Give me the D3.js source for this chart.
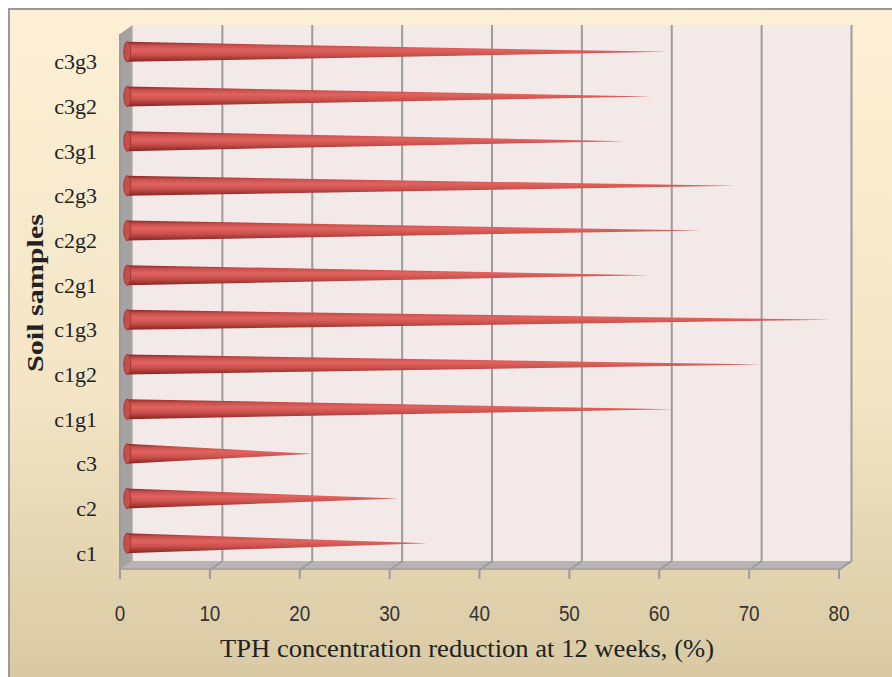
<!DOCTYPE html>
<html>
<head>
<meta charset="utf-8">
<script src="https://cdn.jsdelivr.net/npm/d3@7"></script>
<style>
  body { margin: 0; background: #fff; }
  svg { display: block; }
</style>
</head>
<body>
<script>
// soil samples, bottom to top
let samples = ['c1', 'c2', 'c3', 'c1g1', 'c1g2', 'c1g3', 'c2g1', 'c2g2', 'c2g3', 'c3g1', 'c3g2', 'c3g3'];
let reduction = [33.5, 30.3, 20.7, 60.9, 70.8, 78.5, 58.2, 64.1, 67.8, 55.5, 58.5, 60.2];
let xTicks = [0, 10, 20, 30, 40, 50, 60, 70, 80];

let width = 892;
let height = 677;

// 3d depth offset (front -> back)
let dx = 12.5, dy = -9;
let frontBottom = 570, frontTop = 34;

var svg = d3.select("body").append("svg")
  .attr("width", width)
  .attr("height", height);

let defs = svg.append('defs');

let bg = defs.append('linearGradient').attr('id', 'bg')
  .attr('x1', 0).attr('y1', 0).attr('x2', 0).attr('y2', 1);
bg.append('stop').attr('offset', '0%').attr('stop-color', '#fdf0d5');
bg.append('stop').attr('offset', '55%').attr('stop-color', '#f3e5c5');
bg.append('stop').attr('offset', '100%').attr('stop-color', '#d6c7a0');

let coneGrad = defs.append('linearGradient').attr('id', 'cone')
  .attr('x1', 0).attr('y1', 0).attr('x2', 0).attr('y2', 1);
coneGrad.append('stop').attr('offset', '0%').attr('stop-color', '#8c2624');
coneGrad.append('stop').attr('offset', '18%').attr('stop-color', '#c8504c');
coneGrad.append('stop').attr('offset', '40%').attr('stop-color', '#e0635f');
coneGrad.append('stop').attr('offset', '65%').attr('stop-color', '#cc524e');
coneGrad.append('stop').attr('offset', '100%').attr('stop-color', '#862422');

// chart area background + frame
svg.append('rect')
  .attr('x', 9).attr('y', 9)
  .attr('width', width + 20).attr('height', height + 20)
  .attr('fill', 'url(#bg)')
  .attr('stroke', '#9a9a9a')
  .attr('stroke-width', 2);

// scales (front plane)
let x = d3.scaleLinear().domain([0, 80]).range([120, 839]);
let y = d3.scaleBand().domain(samples).range([frontBottom, frontTop]).paddingInner(0).paddingOuter(0);

let walls = svg.append('g');

// back wall
walls.append('rect')
  .attr('x', x(0) + dx).attr('y', frontTop + dy)
  .attr('width', x(80) - x(0)).attr('height', frontBottom - frontTop)
  .attr('fill', '#f3e9e9');

// side wall
walls.append('path')
  .attr('d', `M${x(0)},${frontTop} L${x(0) + dx},${frontTop + dy} L${x(0) + dx},${frontBottom + dy} L${x(0)},${frontBottom} Z`)
  .attr('fill', '#a4a2a3');

// floor
walls.append('path')
  .attr('d', `M${x(0)},${frontBottom} L${x(0) + dx},${frontBottom + dy} L${x(80) + dx},${frontBottom + dy} L${x(80)},${frontBottom} Z`)
  .attr('fill', '#b9b3b6');
walls.append('line')
  .attr('x1', x(0)).attr('x2', x(80))
  .attr('y1', frontBottom - 1).attr('y2', frontBottom - 1)
  .attr('stroke', '#aaa4a7').attr('stroke-width', 2);

// gridlines on back wall and floor
let grid = svg.append('g').attr('stroke', '#9c9c9c').attr('stroke-width', 2).attr('fill', 'none');
grid.selectAll('path')
  .data(xTicks.slice(1))
  .enter().append('path')
  .attr('d', (d) => `M${x(d) + dx},${frontTop + dy} L${x(d) + dx},${frontBottom + dy} L${x(d)},${frontBottom}`);

// front axis ticks
svg.append('g').attr('stroke', '#9c9c9c').attr('stroke-width', 2)
  .selectAll('line')
  .data(xTicks)
  .enter().append('line')
  .attr('x1', (d) => x(d)).attr('x2', (d) => x(d))
  .attr('y1', frontBottom).attr('y2', frontBottom + 9);
svg.append('line')
  .attr('x1', x(0)).attr('x2', x(0))
  .attr('y1', frontTop).attr('y2', frontBottom + 9)
  .attr('stroke', '#9c9c9c').attr('stroke-width', 2);

// cones sit half way into the depth
let mx = dx / 2, my = dy / 2;
let r = 10;

let cones = svg.append('g')
  .selectAll('g')
  .data(samples.map((s, i) => ({name: s, value: reduction[i]})))
  .enter().append('g');

cones.append('path')
  .attr('d', (d) => {
    let cy = y(d.name) + y.bandwidth() / 2 + my;
    let x0 = x(0) + mx;
    let tip = x(d.value) + mx;
    return `M${x0},${cy - r} L${tip},${cy} L${x0},${cy + r} Z`;
  })
  .attr('fill', 'url(#cone)');

cones.append('ellipse')
  .attr('cx', x(0) + mx + 1)
  .attr('cy', (d) => y(d.name) + y.bandwidth() / 2 + my)
  .attr('rx', 3.5).attr('ry', r)
  .attr('fill', '#c4504c')
  .attr('stroke', '#9a302d').attr('stroke-width', 0.8);

// category labels
svg.append('g')
  .selectAll('text')
  .data(samples)
  .enter().append('text')
  .attr('x', 97)
  .attr('y', (d) => y(d) + y.bandwidth() / 2 + 13)
  .attr('text-anchor', 'end')
  .attr('font-family', '"Liberation Serif", "Times New Roman", serif')
  .attr('font-size', 22)
  .attr('fill', '#222')
  .text((d) => d);

// x tick labels
svg.append('g')
  .selectAll('text')
  .data(xTicks)
  .enter().append('text')
  .attr('x', (d) => x(d))
  .attr('y', 621)
  .attr('text-anchor', 'middle')
  .attr('font-family', '"Liberation Sans", Arial, sans-serif')
  .attr('font-size', 22)
  .attr('textLength', (d) => String(d).length * 10.5)
  .attr('lengthAdjust', 'spacingAndGlyphs')
  .attr('fill', '#333')
  .text((d) => d);

// axis titles
svg.append('text')
  .attr('x', 467)
  .attr('y', 657)
  .attr('text-anchor', 'middle')
  .attr('font-family', '"Liberation Serif", "Times New Roman", serif')
  .attr('font-size', 26)
  .attr('textLength', 494)
  .attr('lengthAdjust', 'spacingAndGlyphs')
  .attr('fill', '#222')
  .text('TPH concentration reduction at 12 weeks, (%)');

svg.append('text')
  .attr('transform', 'translate(43,293) rotate(-90)')
  .attr('text-anchor', 'middle')
  .attr('font-family', '"Liberation Serif", "Times New Roman", serif')
  .attr('font-weight', 'bold')
  .attr('font-size', 23)
  .attr('textLength', 158)
  .attr('lengthAdjust', 'spacingAndGlyphs')
  .attr('fill', '#222')
  .text('Soil samples');
</script>
</body>
</html>
